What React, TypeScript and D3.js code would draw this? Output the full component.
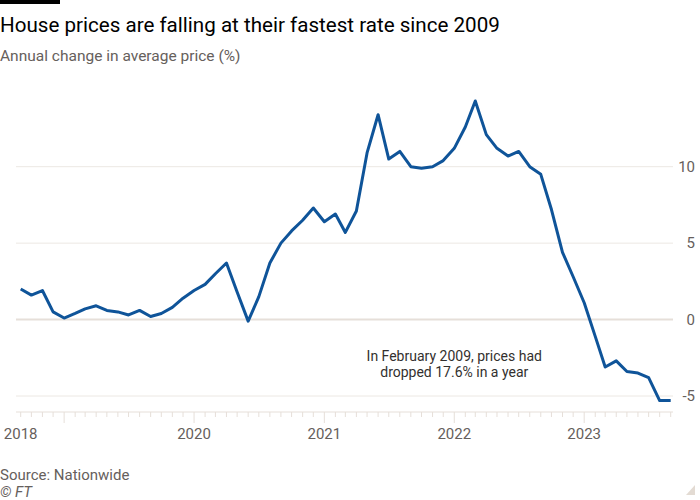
import React, { useEffect, useRef } from 'react';
import * as d3 from 'd3';

// Nationwide annual change in average house price (%), monthly, Sep 2018 - Sep 2023
const startMonth = new Date(2018, 8, 1);
const priceChange = [
  2.0, 1.6, 1.9, 0.5,
  0.1, 0.4, 0.7, 0.9, 0.6, 0.5, 0.3, 0.6, 0.2, 0.4, 0.8, 1.4,
  1.9, 2.3, 3.0, 3.7, 1.8, -0.1, 1.5, 3.7, 5.0, 5.8, 6.5, 7.3,
  6.4, 6.9, 5.7, 7.1, 10.9, 13.4, 10.5, 11.0, 10.0, 9.9, 10.0, 10.4,
  11.2, 12.6, 14.3, 12.1, 11.2, 10.7, 11.0, 10.0, 9.5, 7.2, 4.4, 2.8,
  1.1, -1.1, -3.1, -2.7, -3.4, -3.5, -3.8, -5.3, -5.3,
];
const yTicks = [-5, 0, 5, 10];
const yearLabels = [
  { date: new Date(2018, 8, 1), label: '2018' },
  { date: new Date(2020, 0, 1), label: '2020' },
  { date: new Date(2021, 0, 1), label: '2021' },
  { date: new Date(2022, 0, 1), label: '2022' },
  { date: new Date(2023, 0, 1), label: '2023' },
];
const annotation = ['In February 2009, prices had', 'dropped 17.6% in a year'];

const W = 700;
const H = 500;
const FONT = 'Roboto, sans-serif';

const App: React.FC = () => {
  const svgRef = useRef<SVGSVGElement | null>(null);

  useEffect(() => {
    if (!svgRef.current) return;
    const svg = d3.select(svgRef.current);
    svg.selectAll('*').remove();

    const data = priceChange.map((v, i) => ({ date: d3.timeMonth.offset(startMonth, i), value: v }));
    const lastDate = data[data.length - 1].date;

    const x = d3.scaleTime().domain([startMonth, lastDate]).range([20.7, 670.7]);
    const y = d3.scaleLinear().domain([-5, 10]).range([396, 166.7]);

    // header
    svg.append('rect').attr('x', 0).attr('y', 0).attr('width', 60).attr('height', 4).attr('fill', '#000');
    svg.append('text').text('House prices are falling at their fastest rate since 2009')
      .attr('x', 0).attr('y', 32).attr('font-size', 20.6).attr('fill', '#000');
    svg.append('text').text('Annual change in average price (%)')
      .attr('x', 0).attr('y', 61).attr('font-size', 15.5).attr('fill', '#66605c');

    // gridlines + right axis labels
    const grid = svg.append('g');
    grid.selectAll('line').data(yTicks).join('line')
      .attr('x1', 16).attr('x2', 673)
      .attr('y1', d => y(d)).attr('y2', d => y(d))
      .attr('stroke', d => (d === 0 ? '#e6dfd9' : '#ece8e3'))
      .attr('stroke-width', d => (d === 0 ? 2 : 1));
    grid.selectAll('text').data(yTicks).join('text')
      .text(d => String(d))
      .attr('x', 695).attr('y', d => y(d)).attr('dy', '0.35em')
      .attr('text-anchor', 'end').attr('font-size', 15).attr('fill', '#66605c');

    // x axis: monthly ticks, longer at January
    const axisY = 412;
    const xAxis = svg.append('g');
    xAxis.append('line').attr('x1', 16).attr('x2', 673).attr('y1', axisY).attr('y2', axisY)
      .attr('stroke', '#e6dfd9');
    xAxis.selectAll('line.tick').data(data.map(d => d.date)).join('line')
      .attr('class', 'tick')
      .attr('x1', d => x(d)).attr('x2', d => x(d))
      .attr('y1', axisY).attr('y2', d => axisY + (d.getMonth() === 0 ? 11 : 5))
      .attr('stroke', '#e6dfd9');
    xAxis.selectAll('text').data(yearLabels).join('text')
      .text(d => d.label)
      .attr('x', d => x(d.date)).attr('y', 439)
      .attr('text-anchor', 'middle').attr('font-size', 15).attr('fill', '#66605c');

    // line
    const line = d3.line<{ date: Date; value: number }>().x(d => x(d.date)).y(d => y(d.value));
    svg.append('path').datum(data)
      .attr('d', line)
      .attr('fill', 'none').attr('stroke', '#0f5499').attr('stroke-width', 3)
      .attr('stroke-linejoin', 'round');

    // annotation
    svg.append('g').selectAll('text').data(annotation).join('text')
      .text(d => d)
      .attr('x', x(new Date(2022, 0, 1)))
      .attr('y', (d, i) => y(-2.4) + i * 15.5).attr('dy', '0.35em')
      .attr('text-anchor', 'middle').attr('font-size', 14).attr('fill', '#33302e');

    // footer
    svg.append('text').text('Source: Nationwide')
      .attr('x', 0).attr('y', 480).attr('font-size', 15).attr('fill', '#66605c');
    svg.append('text').text('© FT')
      .attr('x', 0).attr('y', 497).attr('font-size', 15).attr('font-style', 'italic').attr('fill', '#66605c');
    svg.append('path').attr('d', 'M695,485 L695,495 L686,495 Z').attr('fill', '#e3dbd3');
  }, []);

  return (
    <svg ref={svgRef} width={W} height={H}
      style={{ position: 'absolute', left: 0, top: 0, background: '#fff', fontFamily: FONT }} />
  );
};

export default App;
